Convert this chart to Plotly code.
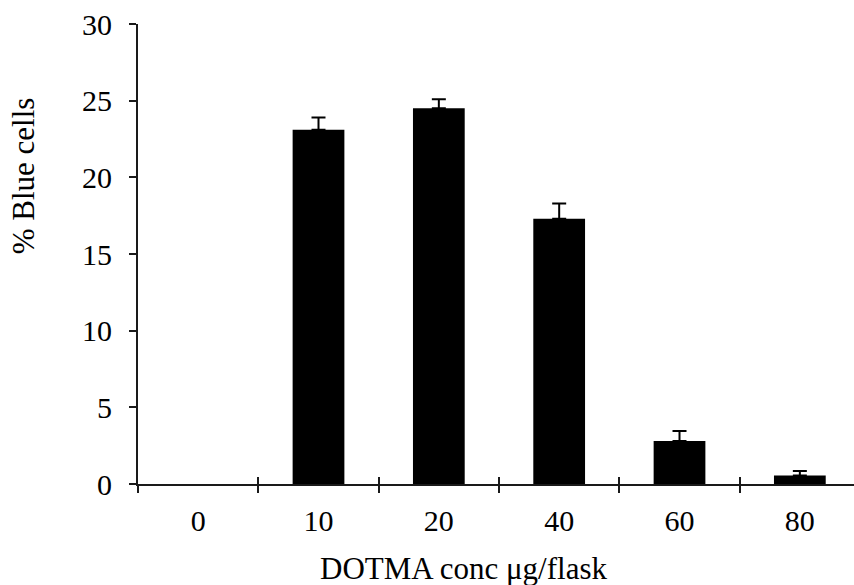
import plotly.graph_objects as go

categories = ["0", "10", "20", "40", "60", "80"]
blue_cells = [0, 23.1, 24.5, 17.3, 2.8, 0.55]
errors = [0, 0.8, 0.6, 1.0, 0.65, 0.3]
y_ticks = [0, 5, 10, 15, 20, 25, 30]

FONT = "Liberation Serif"
FS_TICK = 30
FS_TITLE = 31
LINE = "#1a1a1a"

# a zero-height bar has nothing to draw (and no error cap in the reference)
bar_y = [v if v != 0 else None for v in blue_cells]

fig = go.Figure()
fig.add_trace(go.Bar(
    x=categories, y=bar_y,
    marker=dict(color="black", line=dict(width=0)),
    error_y=dict(type="data", array=errors, symmetric=False, arrayminus=[0]*len(errors),
                 color="black", thickness=2, width=7),
    showlegend=False,
))
# invisible helper trace for overlay axis (crossing ticks)
fig.add_trace(go.Scatter(
    x=categories, y=blue_cells, xaxis="x2", mode="markers",
    marker=dict(opacity=0), hoverinfo="skip", showlegend=False,
))

fig.update_layout(
    width=854, height=585,
    margin=dict(l=138, r=0, t=24, b=101, autoexpand=False),
    plot_bgcolor="white", paper_bgcolor="white",
    bargap=0.57,
    font=dict(family=FONT, size=FS_TICK, color="black"),
    xaxis=dict(
        type="category", categoryarray=categories, range=[-0.5, 5.45],
        tickson="boundaries", ticks="outside", ticklen=7, tickwidth=2, tickcolor=LINE,
        showline=True, linecolor=LINE, linewidth=2, showgrid=False, zeroline=False,
        tickfont=dict(family=FONT, size=FS_TICK, color="black"), ticklabelstandoff=9,
        automargin=False, ticklabeloverflow="allow",
    ),
    xaxis2=dict(
        type="category", categoryarray=categories, range=[-0.5, 5.45],
        overlaying="x", anchor="y", side="bottom", matches="x",
        tickson="boundaries", ticks="inside", ticklen=7, tickwidth=2, tickcolor=LINE,
        showline=False, showgrid=False, zeroline=False, showticklabels=False,
        automargin=False,
    ),
    yaxis=dict(
        range=[0, 30], tickvals=y_ticks, ticks="outside", ticklen=7, tickwidth=2,
        tickcolor=LINE, showline=True, linecolor=LINE, linewidth=2,
        showgrid=False, zeroline=False,
        tickfont=dict(family=FONT, size=FS_TICK, color="black"), ticklabelstandoff=11,
        automargin=False, ticklabeloverflow="allow",
    ),
    annotations=[
        dict(text="% Blue cells", xref="paper", yref="paper", x=-0.1606, y=0.669,
             textangle=-90, showarrow=False, xanchor="center", yanchor="middle",
             font=dict(family=FONT, size=FS_TITLE, color="black")),
        dict(text="DOTMA conc μg/flask", xref="paper", yref="paper", x=0.4546, y=-0.184,
             showarrow=False, xanchor="center", yanchor="middle",
             font=dict(family=FONT, size=FS_TITLE, color="black")),
    ],
)

# remove the browser's default 8px body margin so the figure fills the window
fig.write_html("out.html", config={"displayModeBar": False},
               post_script="document.body.style.margin='0';")
